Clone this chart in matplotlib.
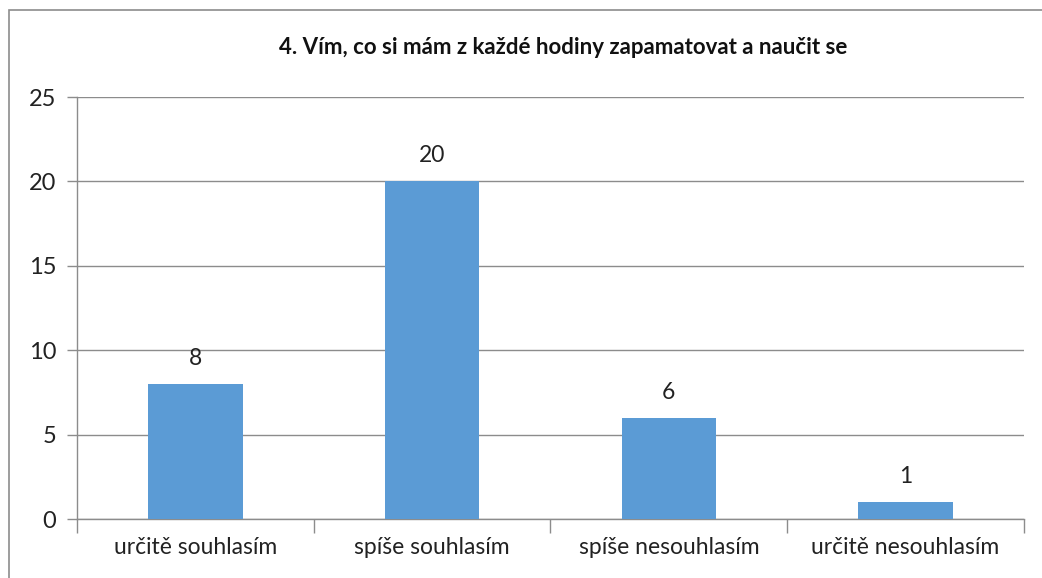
import matplotlib
matplotlib.use("Agg")
import matplotlib.pyplot as plt
from matplotlib.patches import Rectangle

# Data
categories = ["určitě souhlasím", "spíše souhlasím", "spíše nesouhlasím", "určitě nesouhlasím"]
values = [8, 20, 6, 1]
title = "4. Vím, co si mám z každé hodiny zapamatovat a naučit se"
yticks = [0, 5, 10, 15, 20, 25]

plt.rcParams['font.family'] = ['Lato', 'DejaVu Sans']

fig = plt.figure(figsize=(10.42, 5.78), dpi=100)
ax = fig.add_axes([0.0739, 0.102, 0.9088, 0.730])

# rámeček kolem celého grafu
fig.patches.append(Rectangle((9 / 1042, -0.01), 1.1, 1 - 10 / 578 + 0.01,
                             transform=fig.transFigure, fill=False,
                             edgecolor='#8c8c8c', linewidth=1.2))

x = list(range(len(categories)))
ax.bar(x, values, width=0.4, color='#5b9bd5', zorder=3)

for xi, v in zip(x, values):
    ax.annotate(str(v), xy=(xi, v), xytext=(0, 11), textcoords='offset points',
                ha='center', va='bottom', fontsize=16.5, color='#222222')

ax.set_xlim(-0.5, len(categories) - 0.5)
ax.set_ylim(0, 25)
ax.set_yticks(yticks)
ax.set_yticklabels([str(t) for t in yticks], fontsize=17, color='#222222')
ax.yaxis.grid(True, color='#8c8c8c', linewidth=1, zorder=0)

# popisky kategorií a značky mezi nimi
ax.set_xticks(x)
ax.set_xticklabels(categories, fontsize=16.5, color='#222222')
ax.tick_params(axis='x', length=0, pad=13)
ax.set_xticks([i - 0.5 for i in range(len(categories) + 1)], minor=True)
ax.tick_params(axis='x', which='minor', length=10, color='#8c8c8c', width=1)
ax.tick_params(axis='y', length=7, color='#8c8c8c', width=1, pad=8)

for side in ['top', 'right']:
    ax.spines[side].set_visible(False)
for side in ['left', 'bottom']:
    ax.spines[side].set_color('#8c8c8c')
    ax.spines[side].set_linewidth(1)

fig.text(563 / 1042, 1 - 47 / 578, title, ha='center', va='center',
         fontsize=16, fontweight='bold', color='#111111')

fig.savefig("out.png", dpi=100)
